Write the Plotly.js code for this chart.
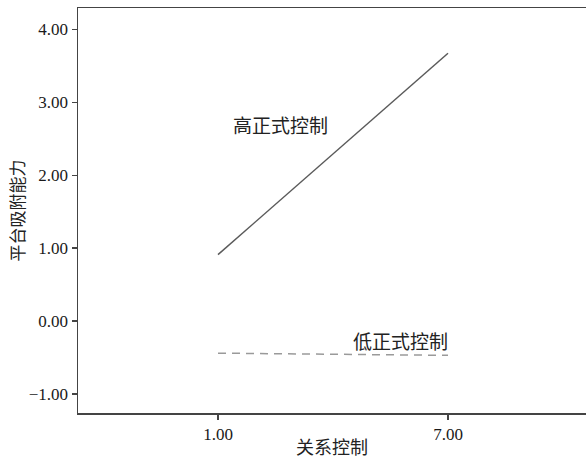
<!DOCTYPE html>
<html>
<head>
<meta charset="utf-8">
<script src="https://cdn.plot.ly/plotly-3.0.1.min.js"></script>
<style>html,body{margin:0;padding:0;background:#fff;}</style>
</head>
<body>
<div id="chart" style="width:586px;height:459px;"></div>
<script>
const xValues = [1, 7];
const highFormal = [0.91, 3.67];
const lowFormal = [-0.44, -0.47];
const seriesNames = ['高正式控制', '低正式控制'];
const xTicks = [1, 7];
const xTickText = ['1.00', '7.00'];
const yTicks = [-1, 0, 1, 2, 3, 4];
const yTickText = ['\u22121.00', '0.00', '1.00', '2.00', '3.00', '4.00'];

const serif = 'Liberation Serif, Times New Roman, serif';
const cjk = 'Noto Sans CJK SC, sans-serif';

const traces = [
  {x: xValues, y: highFormal, mode: 'lines', name: seriesNames[0],
   line: {color: '#5a5a5a', width: 1.5}, hoverinfo: 'skip'},
  {x: xValues, y: lowFormal, mode: 'lines', name: seriesNames[1],
   line: {color: '#9a9a9a', width: 1.5, dash: '8px,6px'}, hoverinfo: 'skip'}
];

const layout = {
  width: 586, height: 459,
  margin: {l: 78, r: 0, t: 8, b: 46},
  paper_bgcolor: '#fff', plot_bgcolor: '#fff',
  showlegend: false,
  xaxis: {
    range: [-2.652, 10.6], tickvals: xTicks, ticktext: xTickText,
    showgrid: false, zeroline: false, showline: true, mirror: true,
    linecolor: '#444', linewidth: 1.5, ticks: 'outside', ticklen: 5,
    tickcolor: '#444', tickwidth: 1.2,
    tickfont: {family: serif, size: 17, color: '#1a1a1a'},
    title: {text: '关系控制', font: {family: cjk, size: 18, color: '#222'}, standoff: 4},
    automargin: false
  },
  yaxis: {
    range: [-1.26, 4.29], tickvals: yTicks, ticktext: yTickText,
    showgrid: false, zeroline: false, showline: true,
    linecolor: '#444', linewidth: 1.5, ticks: 'outside', ticklen: 5,
    tickcolor: '#444', tickwidth: 1.2,
    tickfont: {family: serif, size: 17, color: '#1a1a1a'},
    title: {text: '平台吸附能力', font: {family: cjk, size: 17, color: '#222'}, standoff: 0},
    automargin: false
  },
  annotations: [
    {x: 2.64, y: 2.70, xref: 'x', yref: 'y', text: seriesNames[0], showarrow: false,
     font: {family: cjk, size: 19, color: '#222'}},
    {x: 5.76, y: -0.27, xref: 'x', yref: 'y', text: seriesNames[1], showarrow: false,
     font: {family: cjk, size: 19, color: '#222'}}
  ]
};

Plotly.newPlot('chart', traces, layout, {displayModeBar: false, staticPlot: true});
</script>
</body>
</html>
